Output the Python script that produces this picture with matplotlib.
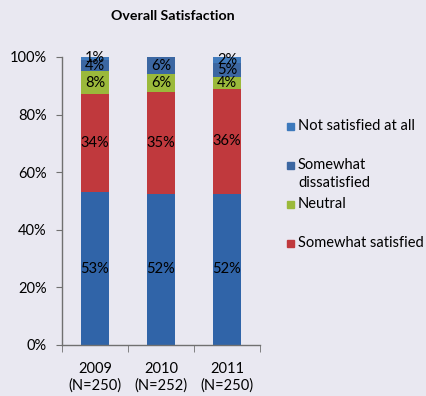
import matplotlib
matplotlib.use("Agg")
import matplotlib.pyplot as plt
from matplotlib.patches import Rectangle
import numpy as np

plt.rcParams['font.family'] = ['Lato', 'DejaVu Sans']

years = ["2009\n(N=250)", "2010\n(N=252)", "2011\n(N=250)"]
very_satisfied = [53, 52, 52]
somewhat_satisfied = [34, 35, 36]
neutral = [8, 6, 4]
somewhat_dissatisfied = [4, 6, 5]
not_satisfied = [1, 0, 2]

series = [very_satisfied, somewhat_satisfied, neutral, somewhat_dissatisfied, not_satisfied]
colors = ["#3064a8", "#c0393d", "#9bb93b", "#3c67a2", "#417bbd"]
legend_labels = ["Not satisfied at all", "Somewhat\ndissatisfied", "Neutral", "Somewhat satisfied"]
legend_colors = ["#3d79bc", "#3c67a2", "#9bb93b", "#c0393d"]

bg = "#e9e8f1"
fig = plt.figure(figsize=(4.26, 3.96), dpi=100, facecolor=bg)
ax = fig.add_axes([62/426, 1-345/396, (260-62)/426, (345-57)/396])
ax.set_facecolor(bg)

data = np.array(series, dtype=float)
totals = data.sum(axis=0)
frac = data / totals * 100
x = np.arange(len(years))
bottom = np.zeros(len(years))
for vals, pct, c in zip(series, frac, colors):
    ax.bar(x, pct, 0.41, bottom=bottom, color=c, edgecolor='none')
    for xi, b, p, v in zip(x, bottom, pct, vals):
        if v > 0:
            ax.text(xi, b + p/2, f"{v}%", ha='center', va='center', fontsize=10.5, color='black')
    bottom += pct

ax.set_xlim(-0.5, 2.5)
ax.set_ylim(0, 100)
ax.set_yticks([0, 20, 40, 60, 80, 100])
ax.set_yticklabels([f"{v}%" for v in [0, 20, 40, 60, 80, 100]], fontsize=10.5)
ax.set_xticks(x)
ax.set_xticklabels(years, fontsize=10.5, linespacing=1.25)
ax.set_xticks([-0.5, 0.5, 1.5, 2.5], minor=True)
ax.tick_params(axis='x', which='major', length=0, pad=12)
ax.tick_params(axis='x', which='minor', length=5, color='#707070', direction='out')
ax.tick_params(axis='y', length=4, color='#707070', direction='out', pad=7)
for s in ['top', 'right']:
    ax.spines[s].set_visible(False)
for s in ['left', 'bottom']:
    ax.spines[s].set_color('#707070')
    ax.spines[s].set_linewidth(1)

fig.text(173/426, 1-16/396, "Overall Satisfaction", ha='center', va='center',
         fontsize=10.2, fontweight='bold')

ys = [126, 165, 204, 243]
for lab, c, yy in zip(legend_labels, legend_colors, ys):
    fig.add_artist(Rectangle((287/426, 1-(yy+3.5)/396), 7/426, 7/396,
                             transform=fig.transFigure, color=c))
    if '\n' in lab:
        fig.text(298/426, 1-(yy-7)/396, lab, ha='left', va='top', fontsize=10.5, linespacing=1.4)
    else:
        fig.text(298/426, 1-yy/396, lab, ha='left', va='center', fontsize=10.5)

fig.savefig("out.png", dpi=100, facecolor=bg)
